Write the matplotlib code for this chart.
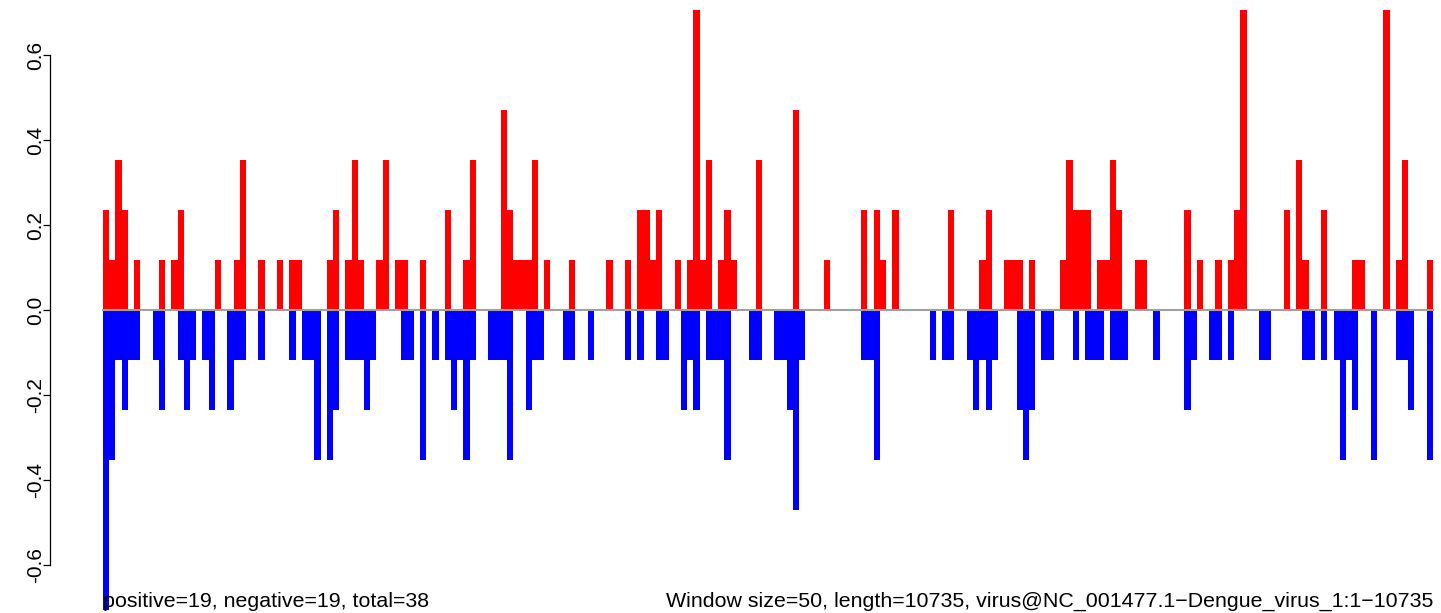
import numpy as np
import matplotlib
matplotlib.use('Agg')
import matplotlib.pyplot as plt

plt.rcParams['font.family'] = ['Liberation Sans', 'DejaVu Sans']

# window index -> score (windows of 50 nt along the genome)
n_windows = 214
pos_windows = [0, 1, 2, 3, 5, 9, 11, 12, 18, 21, 22, 25, 28, 30, 31, 36, 37, 39, 40, 41,
               44, 45, 47, 48, 51, 55, 58, 59, 64, 65, 66, 67, 68, 69, 71, 75, 81, 84, 86, 87,
               88, 89, 92, 94, 95, 96, 97, 99, 100, 101, 105, 111, 116, 122, 124, 125, 127, 136,
               141, 142, 145, 146, 147, 149, 154, 155, 156, 157, 158, 160, 161, 162, 163, 166,
               167, 174, 176, 179, 181, 182, 183, 190, 192, 193, 196, 201, 202, 206, 208, 209, 213]
pos_values = [0.235, 0.118, 0.353, 0.235, 0.118, 0.118, 0.118, 0.235, 0.118, 0.118, 0.353, 0.118,
              0.118, 0.118, 0.118, 0.118, 0.235, 0.118, 0.353, 0.118, 0.118, 0.353, 0.118, 0.118,
              0.118, 0.235, 0.118, 0.353, 0.471, 0.235, 0.118, 0.118, 0.118, 0.353, 0.118, 0.118,
              0.118, 0.118, 0.235, 0.235, 0.118, 0.235, 0.118, 0.118, 0.706, 0.118, 0.353, 0.118,
              0.235, 0.118, 0.353, 0.471, 0.118, 0.235, 0.235, 0.118, 0.235, 0.235, 0.118, 0.235,
              0.118, 0.118, 0.118, 0.118, 0.118, 0.353, 0.235, 0.235, 0.235, 0.118, 0.118, 0.353,
              0.235, 0.118, 0.118, 0.235, 0.118, 0.118, 0.118, 0.235, 0.706, 0.235, 0.353, 0.118,
              0.235, 0.118, 0.118, 0.706, 0.118, 0.353, 0.118]

neg_windows = [0, 1, 2, 3, 4, 5, 8, 9, 12, 13, 14, 16, 17, 20, 21, 22, 25, 30, 32, 33, 34, 36,
               37, 39, 40, 41, 42, 43, 48, 49, 51, 53, 55, 56, 57, 58, 59, 62, 63, 64, 65, 68, 69,
               70, 74, 75, 78, 84, 86, 89, 90, 93, 94, 95, 97, 98, 99, 100, 104, 105, 108, 109,
               110, 111, 112, 122, 123, 124, 133, 135, 136, 139, 140, 141, 142, 143, 147, 148,
               149, 151, 152, 156, 158, 159, 160, 162, 163, 164, 169, 174, 175, 178, 179, 181,
               186, 187, 193, 194, 196, 198, 199, 200, 201, 204, 208, 209, 210, 213]
neg_values = [-0.706, -0.353, -0.118, -0.235, -0.118, -0.118, -0.118, -0.235, -0.118, -0.235,
              -0.118, -0.118, -0.235, -0.235, -0.118, -0.118, -0.118, -0.118, -0.118, -0.118,
              -0.353, -0.353, -0.235, -0.118, -0.118, -0.118, -0.235, -0.118, -0.118, -0.118,
              -0.353, -0.118, -0.118, -0.235, -0.118, -0.353, -0.118, -0.118, -0.118, -0.118,
              -0.353, -0.235, -0.118, -0.118, -0.118, -0.118, -0.118, -0.118, -0.118, -0.118,
              -0.118, -0.235, -0.118, -0.235, -0.118, -0.118, -0.118, -0.353, -0.118, -0.118,
              -0.118, -0.118, -0.235, -0.471, -0.118, -0.118, -0.118, -0.353, -0.118, -0.118,
              -0.118, -0.118, -0.235, -0.118, -0.235, -0.118, -0.235, -0.353, -0.235, -0.118,
              -0.118, -0.118, -0.118, -0.118, -0.118, -0.118, -0.118, -0.118, -0.118, -0.235,
              -0.118, -0.118, -0.118, -0.118, -0.118, -0.118, -0.118, -0.118, -0.118, -0.118,
              -0.353, -0.118, -0.235, -0.353, -0.118, -0.118, -0.235, -0.353]

y_ticks = [-0.6, -0.4, -0.2, 0.0, 0.2, 0.4, 0.6]
left_note = 'positive=19, negative=19, total=38'
right_note = 'Window size=50, length=10735, virus@NC_001477.1\u2212Dengue_virus_1:1\u221210735'

W, H = 1441, 613
x0_px, bar_px = 103, 6.215      # first bar edge and bar width in pixels
y0_px, unit_px = 310, 425       # zero line and pixels per unit

fig = plt.figure(figsize=(W / 100, H / 100), dpi=100)
ax = fig.add_axes([0, 0, 1, 1])
ax.set_xlim(-x0_px / bar_px, (W - x0_px) / bar_px)
ax.set_ylim((y0_px - H) / unit_px, y0_px / unit_px)

ax.bar(pos_windows, pos_values, width=1.0, align='edge', color='#ff0000', linewidth=0)
ax.bar(neg_windows, neg_values, width=1.0, align='edge', color='#0000ff', linewidth=0)
ax.plot([0, n_windows], [0, 0], color='#a0a0a0', linewidth=1.5, zorder=3)

for side in ['top', 'right', 'bottom']:
    ax.spines[side].set_visible(False)
ax.spines['left'].set_position(('data', (50 - x0_px) / bar_px))
ax.spines['left'].set_bounds(-0.6, 0.6)
ax.spines['left'].set_linewidth(0.9)
ax.set_xticks([])
ax.set_yticks(y_ticks)
ax.set_yticklabels(['%.1f' % t for t in y_ticks], rotation=90, va='center', fontsize=15)
ax.tick_params(axis='y', length=5.2, width=0.9, pad=-1.5)

fig.text(x0_px / W, (H - 607) / H, left_note, ha='left', va='baseline', fontsize=15.4)
fig.text(1433 / W, (H - 607) / H, right_note, ha='right', va='baseline', fontsize=15.4)

fig.savefig('out.png', dpi=100)
